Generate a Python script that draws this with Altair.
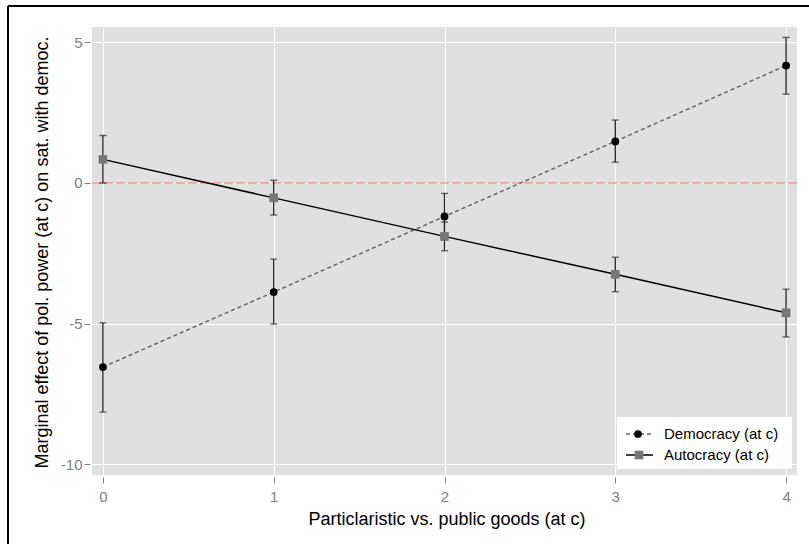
import altair as alt
import pandas as pd

# ---- data ----
x_vals = [0, 1, 2, 3, 4]
series_names = ["Democracy (at c)", "Autocracy (at c)"]

dem_est = [-6.55, -3.88, -1.19, 1.48, 4.18]
dem_lo = [-8.15, -5.02, -2.02, 0.74, 3.16]
dem_hi = [-4.98, -2.71, -0.37, 2.24, 5.18]

aut_est = [0.84, -0.53, -1.90, -3.25, -4.62]
aut_lo = [0.00, -1.14, -2.41, -3.87, -5.48]
aut_hi = [1.69, 0.10, -1.39, -2.64, -3.78]

x_ticks = [0, 1, 2, 3, 4]
y_ticks = [-10, -5, 0, 5]
ref_line = [0]

x_title = "Particlaristic vs. public goods (at c)"
y_title = "Marginal effect of pol. power (at c) on sat. with democ."

dem = pd.DataFrame({"x": x_vals, "est": dem_est, "lo": dem_lo, "hi": dem_hi,
                    "series": series_names[0]})
aut = pd.DataFrame({"x": x_vals, "est": aut_est, "lo": aut_lo, "hi": aut_hi,
                    "series": series_names[1]})

W, H = 705, 448
FONT = "Liberation Sans"
GRAY = "#808080"

xs = alt.Scale(domain=[-0.064, 4.064], nice=False, zero=False)
ys = alt.Scale(domain=[-10.39, 5.55], nice=False, zero=False)

x_axis = alt.Axis(values=x_ticks, labelExpr="datum.value + ''", title=x_title, offset=2,
                  tickSize=6, domain=False, grid=True, labelPadding=6,
                  titleX=W / 2 + 2, titleY=47, titleBaseline="alphabetic", titleAlign="center")
y_axis = alt.Axis(values=y_ticks, labelExpr="datum.value + ''", title=y_title, offset=2,
                  tickSize=6, domain=False, grid=True, labelPadding=2,
                  titleX=-48, titleY=225, titleBaseline="middle", titleAlign="center")

X = alt.X("x:Q", scale=xs, axis=x_axis)
Y = alt.Y("est:Q", scale=ys, axis=y_axis)


def errbars(df):
    bars = alt.Chart(df).mark_rule(color="#222222", strokeWidth=1.3).encode(
        x=X, y=alt.Y("lo:Q", scale=ys, axis=y_axis), y2="hi:Q")
    cap_lo = alt.Chart(df).mark_tick(orient="horizontal", size=7, thickness=1.3,
                                     color="#222222").encode(
        x=X, y=alt.Y("lo:Q", scale=ys, axis=y_axis))
    cap_hi = alt.Chart(df).mark_tick(orient="horizontal", size=7, thickness=1.3,
                                     color="#222222").encode(
        x=X, y=alt.Y("hi:Q", scale=ys, axis=y_axis))
    return [bars, cap_lo, cap_hi]


zero = alt.Chart(pd.DataFrame({"y": ref_line})).mark_rule(
    color="#EE9990", strokeDash=[9, 3], strokeWidth=1.3).encode(
    x=alt.value(0), x2=alt.value(W),
    y=alt.Y("y:Q", scale=ys, axis=y_axis))

dem_line = alt.Chart(dem).mark_line(color="#666666", strokeDash=[4, 3],
                                    strokeWidth=1.5).encode(x=X, y=Y)
aut_line = alt.Chart(aut).mark_line(color="#000000", strokeWidth=1.5).encode(x=X, y=Y)
dem_pts = alt.Chart(dem).mark_point(shape="circle", filled=True, color="#000000",
                                    opacity=1, size=60).encode(x=X, y=Y)
aut_pts = alt.Chart(aut).mark_point(shape="square", filled=True, color="#777777",
                                    opacity=1, size=75).encode(x=X, y=Y)

one = pd.DataFrame({"k": [0]})

# legend (decoration)
leg_box = alt.Chart(one).mark_rect(fill="white").encode(
    x=alt.value(525), x2=alt.value(700), y=alt.value(390), y2=alt.value(442))
leg_l1 = alt.Chart(one).mark_rule(color="#666666", strokeDash=[4, 3], strokeWidth=1.5).encode(
    x=alt.value(534), x2=alt.value(561), y=alt.value(407))
leg_p1 = alt.Chart(one).mark_point(shape="circle", filled=True, color="#000000",
                                   opacity=1, size=60).encode(x=alt.value(546), y=alt.value(407))
leg_t1 = alt.Chart(one).mark_text(align="left", baseline="middle", fontSize=15,
                                  font=FONT, color="black").encode(
    x=alt.value(572), y=alt.value(407), text=alt.value(series_names[0]))
leg_l2 = alt.Chart(one).mark_rule(color="#000000", strokeWidth=1.5).encode(
    x=alt.value(534), x2=alt.value(561), y=alt.value(428))
leg_p2 = alt.Chart(one).mark_point(shape="square", filled=True, color="#777777",
                                   opacity=1, size=75).encode(x=alt.value(547), y=alt.value(428))
leg_t2 = alt.Chart(one).mark_text(align="left", baseline="middle", fontSize=15,
                                  font=FONT, color="black").encode(
    x=alt.value(572), y=alt.value(428), text=alt.value(series_names[1]))

# outer frame (decoration)
frame_top = alt.Chart(one).mark_rule(color="black", strokeWidth=2).encode(
    x=alt.value(-84), x2=alt.value(W + 40), y=alt.value(-21))
frame_left = alt.Chart(one).mark_rule(color="black", strokeWidth=2).encode(
    x=alt.value(-84), y=alt.value(-21), y2=alt.value(H + 90))

layers = ([zero] + errbars(dem) + errbars(aut) +
          [dem_line, aut_line, dem_pts, aut_pts,
           leg_box, leg_l1, leg_p1, leg_t1, leg_l2, leg_p2, leg_t2,
           frame_top, frame_left])

chart = alt.layer(*layers).properties(
    width=W, height=H,
    padding={"left": 92, "top": 27, "right": 12, "bottom": 69},
    autosize=alt.AutoSizeParams(type="none"),
    background="white",
).configure_view(
    fill="#E0E0E0", strokeWidth=0
).configure_axis(
    gridColor="white", gridWidth=1, gridOpacity=1,
    tickColor=GRAY, tickWidth=1,
    labelColor=GRAY, labelFont=FONT, labelFontSize=15,
    titleFont=FONT, titleFontSize=18, titleFontWeight="normal", titleColor="black",
)

chart.save("out.html", embed_options={"renderer": "svg", "actions": False})
